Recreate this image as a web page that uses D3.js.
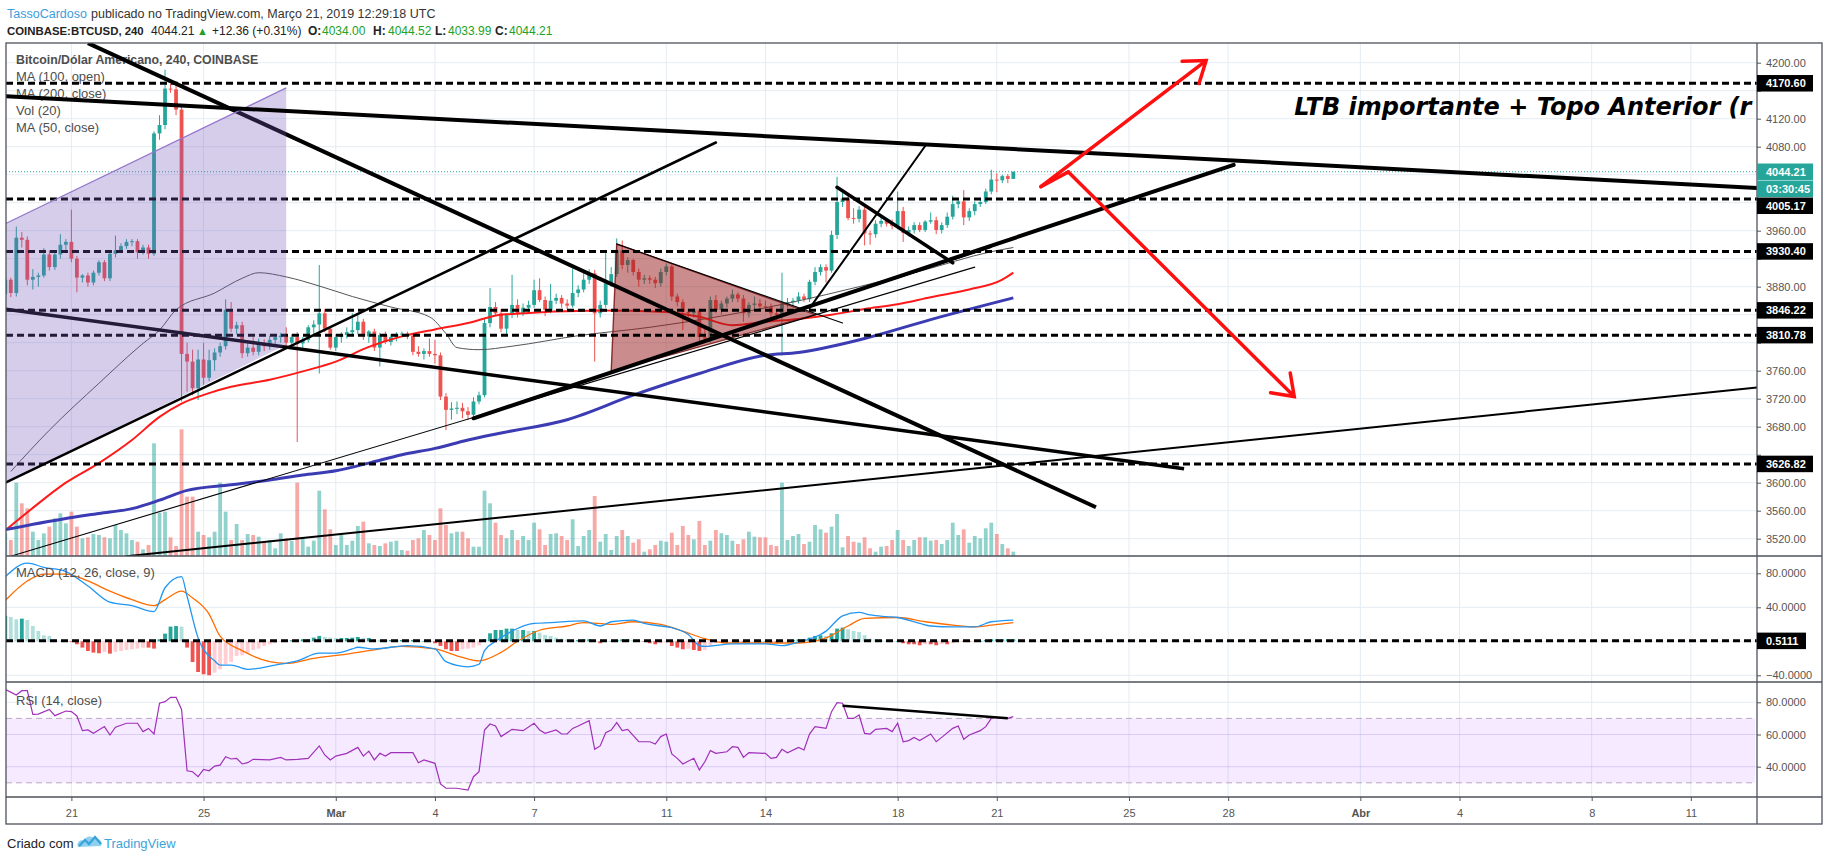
<!DOCTYPE html>
<html>
<head>
<meta charset="utf-8">
<script src="https://cdn.jsdelivr.net/npm/d3@7"></script>
<style>
  body { margin: 0; background: #fff; }
  svg { display: block; font-family: "Liberation Sans", Arial, sans-serif; }
</style>
</head>
<body>
<svg id="chart" width="1828" height="861"></svg>
<script>
// 4h candles from 2019-02-19 00:00 UTC, [open, high, low, close]
const candles = [
  [3870,3895,3862,3890],[3890,3893,3865,3871],[3871,3966,3866,3950],[3950,3958,3936,3947],[3947,3952,3882,3890],
  [3890,3905,3876,3894],[3894,3900,3880,3896],[3896,3935,3893,3926],[3926,3932,3903,3908],[3908,3930,3904,3926],
  [3926,3955,3920,3940],[3940,3948,3930,3944],[3944,3990,3915,3920],[3920,3924,3872,3893],[3893,3898,3886,3896],
  [3896,3900,3880,3886],[3886,3903,3882,3900],[3900,3918,3896,3915],[3915,3918,3888,3892],[3892,3930,3888,3927],
  [3927,3953,3922,3932],[3932,3942,3928,3938],[3938,3948,3934,3944],[3944,3948,3938,3945],[3945,3948,3920,3929],
  [3929,3940,3926,3936],[3936,3940,3920,3927],[3927,4102,3924,4099],[4099,4125,4090,4111],[4111,4190,4105,4163],
  [4163,4170,4157,4162],[4162,4168,4125,4133],[4133,4138,3716,3784],[3784,3800,3730,3773],[3773,3790,3725,3735],
  [3735,3790,3718,3776],[3776,3800,3740,3750],[3750,3790,3745,3775],[3775,3792,3760,3786],[3786,3800,3780,3795],
  [3795,3862,3790,3847],[3847,3858,3815,3820],[3820,3830,3812,3825],[3825,3830,3778,3785],[3785,3800,3780,3793],
  [3793,3808,3782,3787],[3787,3806,3782,3800],[3800,3805,3788,3795],[3795,3810,3790,3804],[3804,3812,3795,3808],
  [3808,3814,3800,3810],[3810,3822,3796,3800],[3800,3812,3795,3808],[3808,3815,3658,3799],[3799,3808,3790,3804],
  [3804,3825,3800,3822],[3822,3832,3808,3826],[3826,3911,3756,3842],[3842,3848,3815,3820],[3820,3822,3790,3793],
  [3793,3812,3788,3808],[3808,3815,3800,3811],[3811,3822,3806,3815],[3815,3842,3810,3818],[3818,3842,3812,3830],
  [3830,3834,3804,3809],[3809,3818,3800,3816],[3816,3820,3788,3793],[3793,3814,3766,3811],[3811,3816,3798,3801],
  [3801,3812,3796,3808],[3808,3815,3802,3812],[3812,3816,3808,3813],[3813,3816,3805,3810],[3810,3814,3782,3787],
  [3787,3795,3780,3784],[3784,3792,3776,3788],[3788,3806,3780,3784],[3784,3804,3770,3782],[3782,3786,3718,3723],
  [3723,3728,3675,3704],[3704,3715,3690,3706],[3706,3716,3698,3707],[3707,3714,3692,3702],[3702,3708,3690,3697],
  [3697,3722,3694,3716],[3716,3730,3712,3725],[3725,3835,3722,3828],[3828,3878,3822,3851],[3851,3858,3838,3842],
  [3842,3848,3815,3820],[3820,3842,3812,3840],[3840,3897,3835,3854],[3854,3862,3836,3842],[3842,3856,3838,3850],
  [3850,3860,3844,3854],[3854,3890,3850,3875],[3875,3892,3858,3861],[3861,3866,3838,3847],[3847,3884,3842,3860],
  [3860,3870,3855,3864],[3864,3868,3850,3856],[3856,3862,3848,3853],[3853,3906,3850,3871],[3871,3882,3865,3876],
  [3876,3900,3872,3890],[3890,3905,3884,3899],[3899,3904,3773,3842],[3842,3860,3836,3854],[3854,3928,3850,3885],
  [3885,3908,3880,3898],[3898,3949,3894,3932],[3932,3946,3905,3911],[3911,3922,3900,3918],[3918,3920,3896,3901],
  [3901,3906,3880,3890],[3890,3897,3884,3892],[3892,3896,3884,3890],[3890,3894,3878,3885],[3885,3906,3880,3901],
  [3901,3913,3896,3909],[3909,3912,3860,3866],[3866,3870,3852,3858],[3858,3862,3818,3844],[3844,3848,3836,3842],
  [3842,3850,3836,3846],[3846,3848,3802,3808],[3808,3820,3800,3806],[3806,3866,3800,3861],[3861,3868,3842,3847],
  [3847,3860,3840,3856],[3856,3866,3850,3863],[3863,3876,3858,3869],[3869,3872,3858,3863],[3863,3868,3830,3842],
  [3842,3858,3836,3854],[3854,3866,3848,3856],[3856,3862,3848,3852],[3852,3860,3846,3851],[3851,3856,3836,3842],
  [3842,3848,3832,3840],[3840,3900,3782,3856],[3856,3864,3850,3858],[3858,3864,3852,3860],[3860,3872,3856,3866],
  [3866,3870,3858,3862],[3862,3890,3858,3887],[3887,3908,3882,3901],[3901,3912,3896,3908],[3908,3912,3886,3903],
  [3903,3960,3900,3954],[3954,4037,3948,4001],[4001,4018,3994,4006],[4006,4010,3975,3978],[3978,3992,3970,3977],
  [3977,3995,3972,3990],[3990,3994,3939,3956],[3956,3960,3940,3955],[3955,3975,3950,3970],[3970,3980,3965,3974],
  [3974,3978,3966,3970],[3970,3976,3962,3967],[3967,4016,3962,3988],[3988,3994,3944,3957],[3957,3966,3952,3961],
  [3961,3972,3956,3968],[3968,3972,3958,3961],[3961,3975,3958,3973],[3973,3986,3970,3975],[3975,3980,3955,3961],
  [3961,3972,3956,3968],[3968,3986,3964,3980],[3980,4010,3976,3998],[3998,4006,3992,4002],[4002,4018,3968,3979],
  [3979,3992,3974,3988],[3988,4002,3982,3998],[3998,4006,3994,4001],[4001,4020,3998,4016],[4016,4047,4012,4033],
  [4033,4042,4015,4032],[4032,4040,4028,4038],[4038,4041,4028,4034],[4034,4044.52,4033.99,4044.21]
];

const volumes = [
  907,640,2933,2107,1907,973,640,907,1173,1507,1707,1307,1773,1173,707,747,880,840,747,707,
  1240,1040,907,640,573,267,440,4507,1733,1773,747,400,5067,2373,2373,973,840,747,973,2933,
  1773,640,1280,640,880,840,773,573,640,307,907,707,600,2933,747,373,613,2613,1867,1067,
  440,840,440,613,1200,1373,507,440,400,507,573,613,240,213,640,707,1040,840,640,1907,
  1240,907,973,973,707,373,373,2613,2107,1333,840,707,1040,640,800,640,1333,1067,440,880,
  907,800,640,1467,400,800,1040,2400,573,880,240,800,1040,800,533,667,173,267,440,613,
  573,933,440,1200,840,667,1400,440,613,1040,907,840,613,480,667,973,773,747,747,440,
  400,2933,640,800,880,480,573,1240,1067,933,1173,1680,347,800,573,533,747,307,173,373,
  400,640,1040,640,400,640,747,747,613,640,480,640,1333,840,1067,533,800,707,1107,1333,
  880,480,307,173
];

const macdHist = [
  30,28.6,25.9,26.7,25.1,18,12.2,7.1,6.3,2.4,0.5,0,-1,-3.5,-7.4,-11.4,-13.3,-14.1,-12.5,-14.5,
  -12.5,-11.4,-10.2,-9.4,-8.6,-7.4,-7.4,-8.6,2.4,9,17.3,18,17.3,-7.4,-24.3,-36.1,-38.8,-40,-36.9,-32.9,
  -27.1,-24.3,-17.2,-16.5,-14.1,-10.2,-8.6,-5.5,-3.5,-2.3,-0.8,0.4,1.2,1.6,2.4,2.4,4.3,6.3,5.1,4.3,
  3.9,3.9,3.9,4.3,5.1,3.9,3.9,2.4,1.6,1.6,1.6,1.6,1.6,1.6,1.6,0.4,0.4,-0.8,-2.3,-5.5,
  -9.4,-11.4,-11.4,-9.4,-8.6,-7.4,-4.7,2.4,9.4,13.3,13.3,14.9,14.9,13.3,13.3,12.2,12.2,10.2,7.5,6.3,
  4.3,3.1,2.4,1.6,1.6,2.4,2.4,0.3,-2.3,-0.8,0.2,1.6,2.4,2.4,1.6,0.2,-0.8,-2.3,-3.5,-2.3,
  -1.6,-5.5,-7.4,-9.4,-8.6,-10.2,-11.4,-10.2,-5.5,-2.3,-0.8,-0.3,-0.2,-0.2,-1.6,-0.8,-0.3,0.2,0.2,-1.6,
  -1.6,-0.8,-0.2,1.6,2.4,2.4,4.3,6.3,7.1,6.3,9.4,14.9,16.1,14.1,12.2,11,7.1,3.1,2.4,1.6,
  0.3,0.2,0.2,-2.3,-3.5,-3.5,-4.7,-3.5,-3.5,-4.7,-3.5,-3.5,-2.3,-0.2,-0.8,-0.8,-0.4,0.2,1.6,2.4,
  2.4,2.4,2.4,2.4
];

// [candle index, value]
const macdLine = [[0,76],[4,92],[7,87],[11,82],[15,65],[19,46],[23,42],[27,35],[29,63],[32,76],[33,53],[35,4],
  [38,-23],[39,-28],[41,-28],[44,-33],[49,-28],[53,-23],[57,-14],[60,-14],[63,-9],[64,-7],[67,-9],[73,-5],
  [78,-9],[80,-24],[84,-30],[86,-27],[87,-11],[89,0],[92,12],[96,21],[99,22],[105,24],[108,18],[110,23],
  [114,25],[116,21],[119,18],[121,16],[124,8],[126,-5],[127,-6],[132,-3],[138,-3],[141,-5],[144,-1],[148,8],
  [149,12],[152,30],[155,34],[157,31],[160,29],[162,28],[166,21],[168,18],[172,17],[176,17],[179,23],[183,25]];
const signalLine = [[0,48],[4,71],[7,79],[11,79],[15,71],[19,59],[23,49],[27,42],[29,49],[32,59],[34,51],[37,32],
  [39,6],[43,-11],[48,-24],[51,-26],[56,-20],[62,-15],[66,-11],[72,-6],[78,-9],[83,-19],[86,-23],[90,-13],
  [93,0],[97,13],[102,18],[105,22],[110,20],[114,23],[119,20],[123,12],[127,3],[131,-2],[138,-2],[144,-2],
  [149,4],[153,18],[156,27],[162,28],[167,23],[172,19],[176,17],[179,19],[183,22]];

const rsiPoints = [[0,88],[2,84.5],[3,87.2],[4,87.2],[5,72.5],[6,72.7],[8,75.6],[9,71.7],[11,74.6],[12,74.2],
  [13,71.5],[14,62.4],[15,62.8],[16,60.7],[18,64.9],[19,59.7],[20,64.5],[22,67],[24,67],[25,61.8],[26,63.8],
  [27,60.3],[28,79.4],[29,80.4],[30,83.1],[31,83.1],[32,75.6],[33,37.5],[34,36.9],[35,33.8],[36,38.3],[37,37.5],
  [38,40.4],[39,41],[40,46.2],[41,44.8],[42,45.2],[43,41.7],[44,42.5],[45,44.6],[48,44.2],[50,45.8],[51,44.2],
  [53,44.6],[55,45.2],[57,52.9],[58,47.3],[59,44.2],[60,46.6],[62,48.3],[64,52],[65,46.6],[66,49.7],[67,44.2],
  [68,48.3],[69,46.6],[70,48.7],[74,48.7],[75,42.5],[76,44.2],[78,42.1],[79,29.3],[80,26.6],[82,26.6],[84,25.5],
  [85,33.8],[86,36.9],[87,62.8],[88,66.5],[89,65.3],[90,58.7],[92,63.2],[94,62.4],[96,67],[97,62.8],[98,60.7],
  [100,62.8],[101,60.3],[102,60.3],[103,63.8],[104,65.3],[106,68.6],[107,50.8],[108,52.9],[109,61.1],[110,62.8],
  [111,67.4],[112,62.4],[113,63.2],[115,55.5],[117,55.5],[118,54.1],[119,58.7],[120,60.3],[121,47.9],[122,45.2],
  [123,41.7],[125,45.2],[126,37.9],[127,43.1],[128,50],[129,48.3],[131,49.3],[132,52.4],[133,52],[134,45.8],
  [135,48.7],[138,48.3],[139,45.2],[140,45.8],[141,50.8],[142,48.7],[144,52],[145,50.4],[146,60.3],[147,64.9],
  [149,63.8],[150,74.2],[151,79.8],[152,79.4],[153,70],[154,70],[155,72.1],[156,60.7],[157,60.3],[158,63.2],
  [160,63.8],[161,61.8],[162,67],[163,55.5],[164,56.2],[165,58.2],[166,56.2],[168,60.3],[169,55.5],[170,58.2],
  [172,63.8],[173,65.3],[174,57],[175,59.7],[177,62.4],[178,64.9],[179,70],[180,70.7],[181,70],[182,70],[183,71.1]];

const ma50 = [[0,3532],[5,3564],[11,3600],[17,3628],[23,3661],[28,3694],[32,3713],[37,3728],[41,3737],[48,3747],
  [54,3759],[60,3773],[66,3794],[72,3809],[78,3819],[84,3828],[90,3840],[108,3846],[120,3844],[126,3837],
  [132,3825],[138,3830],[144,3834],[150,3840],[156,3848],[162,3855],[168,3865],[175,3876],[181,3890],[183,3900]];
const ma100 = [[1,3616],[8,3675],[17,3742],[25,3799],[28,3818],[31,3847],[38,3871],[43,3892],[46,3900],[51,3894],
  [57,3881],[63,3866],[70,3851],[77,3837],[80,3813],[82,3793],[86,3790],[92,3795],[104,3810],[117,3822],
  [130,3838],[143,3858],[155,3880],[166,3902],[179,3930],[183,3936]];
const ma200 = [[0,3533],[11,3549],[17,3556],[23,3563],[28,3575],[33,3589],[41,3597],[48,3604],[54,3611],[60,3617],
  [66,3628],[72,3640],[78,3649],[84,3661],[90,3671],[102,3690],[114,3725],[126,3756],[138,3782],[144,3786],
  [156,3806],[168,3833],[183,3864]];

const levels = [4170.60, 4005.17, 3930.40, 3846.22, 3810.78, 3626.82];
const macdLevel = 0.5111;
const priceTicks = [4200,4160,4120,4080,4040,4000,3960,3920,3880,3840,3800,3760,3720,3680,3640,3600,3560,3520];
const macdTicks = [80, 40, 0, -40];
const rsiTicks = [80, 60, 40];
const dateTicks = [
  ['2019-02-21','21'],['2019-02-25','25'],['2019-03-01','Mar'],['2019-03-04','4'],['2019-03-07','7'],
  ['2019-03-11','11'],['2019-03-14','14'],['2019-03-18','18'],['2019-03-21','21'],['2019-03-25','25'],
  ['2019-03-28','28'],['2019-04-01','Abr'],['2019-04-04','4'],['2019-04-08','8'],['2019-04-11','11']
];

// drawings, points as [candle index, price]
const channel = [[0,3970],[51,4164],[51,3797],[0,3600]];
const triangle = [[111,3941],[110,3759],[147,3840]];
const underLines = [            // drawn beneath the purple channel
  {pts:[[15,4228],[198,3565]], w:4},
  {pts:[[0,3848],[214,3620]], w:3.5}
];
const overLines = [
  {pts:[[0,4152],[318,4021]], w:4},
  {pts:[[0,3600],[129,4086]], w:2.6},
  {pts:[[85,3692],[223,4054]], w:4},
  {pts:[[151,4022],[172,3914]], w:3.5},
  {pts:[[22,3495],[318,3736]], w:2},
  {pts:[[146,3849],[167,4081]], w:2},
  {pts:[[1,3495],[176,3908]], w:1.1},
  {pts:[[110,3759],[179,3936]], w:1.1},
  {pts:[[111,3941],[152,3828]], w:1.1}
];
const arrows = [[[188,4023],[218,4203]], [[193,4044],[234,3723]]];
const arrowLink = [[188,4023],[193,4044]];
const rsiTrend = [[152,77.9],[182,70.1]];
const note = {at:[234,4125], text:'LTB importante + Topo Anterior (r'};

// ---- layout
const L = 6, R = 1757, RR = 1822;
const mainTop = 43, mainBot = 556, macdBot = 682, rsiBot = 797, axisBot = 824;
const t0 = Date.UTC(2019, 1, 19, 0, 0);
const H4 = 4 * 3600e3;
const timeOf = k => new Date(t0 + k * H4);

const x = d3.scaleUtc()
  .domain([new Date(Date.UTC(2019,1,19,0,31)), new Date(Date.UTC(2019,3,13,0,2))])
  .range([L, R]);
const xk = k => x(timeOf(k));
const y = d3.scaleLinear().domain([4200, 3520]).range([62.7, 538.7]);
const yVol = d3.scaleLinear().domain([0, 5200]).range([mainBot, mainBot - 130]);
const yMacd = d3.scaleLinear().domain([80, -40]).range([573.3, 675.3]);
const yRsi = d3.scaleLinear().domain([80, 40]).range([702.3, 766.7]);
const P = d => [xk(d[0]), y(d[1])];

const up = '#26a69a', down = '#ef5350';
const gridColor = '#e4ecf3';
const frame = '#4f525c';

const svg = d3.select('#chart');
const defs = svg.append('defs');
[['clipMain', mainTop, mainBot], ['clipMacd', mainBot, macdBot], ['clipRsi', macdBot, rsiBot]].forEach(([id, a, b]) => {
  defs.append('clipPath').attr('id', id).append('rect').attr('x', L).attr('y', a).attr('width', R - L).attr('height', b - a);
});

// grid
const grid = svg.append('g');
dateTicks.forEach(([d]) => {
  const gx = x(new Date(d + 'T00:00:00Z'));
  grid.append('line').attr('x1', gx).attr('x2', gx).attr('y1', mainTop).attr('y2', rsiBot).attr('stroke', gridColor);
});
priceTicks.forEach(p => grid.append('line').attr('x1', L).attr('x2', R).attr('y1', y(p)).attr('y2', y(p)).attr('stroke', gridColor));
macdTicks.forEach(v => grid.append('line').attr('x1', L).attr('x2', R).attr('y1', yMacd(v)).attr('y2', yMacd(v)).attr('stroke', gridColor));

// ---- main pane
const main = svg.append('g').attr('clip-path', 'url(#clipMain)');

main.append('g').selectAll('rect').data(volumes).join('rect')
  .attr('x', (d, i) => xk(i) - 1.9).attr('width', 3.8)
  .attr('y', d => yVol(d)).attr('height', d => mainBot - yVol(d))
  .attr('fill', (d, i) => candles[i][3] >= candles[i][0] ? 'rgba(38,166,154,0.5)' : 'rgba(239,83,80,0.5)');

const cg = main.append('g');
cg.selectAll('line').data(candles).join('line')
  .attr('x1', (d, i) => xk(i)).attr('x2', (d, i) => xk(i))
  .attr('y1', d => y(d[1])).attr('y2', d => y(d[2]))
  .attr('stroke', d => d[3] >= d[0] ? up : down).attr('stroke-width', 1);
cg.selectAll('rect').data(candles).join('rect')
  .attr('x', (d, i) => xk(i) - 1.9).attr('width', 3.8)
  .attr('y', d => y(Math.max(d[0], d[3])))
  .attr('height', d => Math.max(1, Math.abs(y(d[0]) - y(d[3]))))
  .attr('fill', d => d[3] >= d[0] ? up : down);

const maLine = d3.line().x(d => xk(d[0])).y(d => y(d[1])).curve(d3.curveMonotoneX);
main.append('path').attr('d', maLine(ma100)).attr('fill', 'none').attr('stroke', '#555').attr('stroke-width', 1);
main.append('path').attr('d', maLine(ma50)).attr('fill', 'none').attr('stroke', '#ff1a1a').attr('stroke-width', 2);
main.append('path').attr('d', maLine(ma200)).attr('fill', 'none').attr('stroke', '#3b3bb3').attr('stroke-width', 3);

// last price line
main.append('line').attr('x1', L).attr('x2', R).attr('y1', y(4044.21)).attr('y2', y(4044.21))
  .attr('stroke', up).attr('stroke-dasharray', '1,2');

// legend
const legend = svg.append('g').attr('fill', '#4e4e4e').attr('font-size', 13);
legend.append('text').attr('x', 16).attr('y', 64).attr('font-weight', 'bold').attr('font-size', 12.3).text('Bitcoin/Dólar Americano, 240, COINBASE');
['MA (100, open)', 'MA (200, close)', 'Vol (20)', 'MA (50, close)'].forEach((t, i) =>
  legend.append('text').attr('x', 16).attr('y', 81 + i * 17).text(t));

const draw = svg.append('g').attr('clip-path', 'url(#clipMain)');
draw.append('path').attr('d', 'M' + triangle.map(P).join('L') + 'Z')
  .attr('fill', 'rgba(150,25,25,0.5)').attr('stroke', 'rgba(120,20,20,0.85)').attr('stroke-width', 1.4);

levels.forEach(p => draw.append('line').attr('x1', L).attr('x2', R).attr('y1', y(p)).attr('y2', y(p))
  .attr('stroke', '#000').attr('stroke-width', 3).attr('stroke-dasharray', '7,4'));

underLines.forEach(l => draw.append('line')
  .attr('x1', P(l.pts[0])[0]).attr('y1', P(l.pts[0])[1]).attr('x2', P(l.pts[1])[0]).attr('y2', P(l.pts[1])[1])
  .attr('stroke', '#000').attr('stroke-width', l.w));

draw.append('path').attr('d', 'M' + channel.map(P).join('L') + 'Z').attr('fill', 'rgba(120,90,190,0.3)');
draw.append('line').attr('x1', P(channel[0])[0]).attr('y1', P(channel[0])[1]).attr('x2', P(channel[1])[0]).attr('y2', P(channel[1])[1])
  .attr('stroke', '#9575cd').attr('stroke-width', 1.2);

overLines.forEach(l => draw.append('line')
  .attr('x1', P(l.pts[0])[0]).attr('y1', P(l.pts[0])[1]).attr('x2', P(l.pts[1])[0]).attr('y2', P(l.pts[1])[1])
  .attr('stroke', '#000').attr('stroke-width', l.w).attr('stroke-linecap', 'round'));

function arrowPath(a, b) {
  const [x0, y0] = P(a), [x1, y1] = P(b);
  const ang = Math.atan2(y0 - y1, x0 - x1), len = 24, spread = 0.62;
  const h1 = [x1 + len * Math.cos(ang + spread), y1 + len * Math.sin(ang + spread)];
  const h2 = [x1 + len * Math.cos(ang - spread), y1 + len * Math.sin(ang - spread)];
  return `M${x0},${y0}L${x1},${y1}M${h1}L${x1},${y1}L${h2}`;
}
arrows.forEach(([a, b]) => draw.append('path').attr('d', arrowPath(a, b))
  .attr('fill', 'none').attr('stroke', '#ff1010').attr('stroke-width', 3.5).attr('stroke-linecap', 'round'));
draw.append('path').attr('d', 'M' + arrowLink.map(P).join('L'))
  .attr('stroke', '#ff1010').attr('stroke-width', 3.5).attr('stroke-linecap', 'round');

draw.append('text').attr('x', P(note.at)[0]).attr('y', P(note.at)[1])
  .attr('font-family', '"DejaVu Sans", sans-serif').attr('font-weight', 'bold').attr('font-style', 'italic')
  .attr('font-size', 24).attr('fill', '#000').text(note.text);

// ---- MACD pane
const macd = svg.append('g').attr('clip-path', 'url(#clipMacd)');
macd.selectAll('rect').data(macdHist).join('rect')
  .attr('x', (d, i) => xk(i) - 1.9).attr('width', 3.8)
  .attr('y', d => Math.min(yMacd(d), yMacd(0)))
  .attr('height', d => Math.max(0.6, Math.abs(yMacd(d) - yMacd(0))))
  .attr('fill', (d, i) => {
    const prev = i ? macdHist[i - 1] : d;
    return d >= 0 ? (d >= prev ? '#26a69a' : '#b2dfdb') : (d <= prev ? '#ef5350' : '#ffcdd2');
  });
const mLine = d3.line().x(d => xk(d[0])).y(d => yMacd(d[1])).curve(d3.curveMonotoneX);
macd.append('path').attr('d', mLine(signalLine)).attr('fill', 'none').attr('stroke', '#ff6d00').attr('stroke-width', 1.3);
macd.append('path').attr('d', mLine(macdLine)).attr('fill', 'none').attr('stroke', '#2196f3').attr('stroke-width', 1.3);
macd.append('line').attr('x1', L).attr('x2', R).attr('y1', yMacd(macdLevel)).attr('y2', yMacd(macdLevel))
  .attr('stroke', '#000').attr('stroke-width', 3).attr('stroke-dasharray', '7,4');
svg.append('text').attr('x', 16).attr('y', 577).attr('font-size', 13).attr('fill', '#4e4e4e').text('MACD (12, 26, close, 9)');

// ---- RSI pane
const rsi = svg.append('g').attr('clip-path', 'url(#clipRsi)');
rsi.append('rect').attr('x', L).attr('width', R - L - 2).attr('y', yRsi(70)).attr('height', yRsi(30) - yRsi(70))
  .attr('fill', 'rgba(153,51,255,0.1)');
rsiTicks.forEach(v => rsi.append('line').attr('x1', L).attr('x2', R).attr('y1', yRsi(v)).attr('y2', yRsi(v))
  .attr('stroke', v === 80 ? gridColor : 'rgba(170,150,230,0.35)'));
[70, 30].forEach(v => rsi.append('line').attr('x1', L).attr('x2', R - 2).attr('y1', yRsi(v)).attr('y2', yRsi(v))
  .attr('stroke', '#b8a9c0').attr('stroke-dasharray', '6,4'));
rsi.append('path').attr('d', d3.line().x(d => xk(d[0])).y(d => yRsi(d[1]))(rsiPoints))
  .attr('fill', 'none').attr('stroke', '#a030b8').attr('stroke-width', 1.2);
rsi.append('line').attr('x1', xk(rsiTrend[0][0])).attr('y1', yRsi(rsiTrend[0][1]))
  .attr('x2', xk(rsiTrend[1][0])).attr('y2', yRsi(rsiTrend[1][1])).attr('stroke', '#000').attr('stroke-width', 2.4);
svg.append('text').attr('x', 16).attr('y', 705).attr('font-size', 13).attr('fill', '#4e4e4e').text('RSI (14, close)');

// ---- frame
const fr = svg.append('g').attr('stroke', frame).attr('stroke-width', 1.3).attr('fill', 'none');
fr.append('rect').attr('x', L).attr('y', mainTop).attr('width', RR - L).attr('height', axisBot - mainTop);
[mainBot, macdBot, rsiBot].forEach(v => fr.append('line').attr('x1', L).attr('x2', RR).attr('y1', v).attr('y2', v));
fr.append('line').attr('x1', R).attr('x2', R).attr('y1', mainTop).attr('y2', axisBot);

// ---- price-axis tags (laid out first so covered tick labels can be dropped)
const tags = [
  {v: 4170.60, t: '4170.60', c: '#000'},
  {v: 4044.21, t: '4044.21', c: up},
  {v: null, t: '03:30:45', c: up},
  {v: 4005.17, t: '4005.17', c: '#000'},
  {v: 3930.40, t: '3930.40', c: '#000'},
  {v: 3846.22, t: '3846.22', c: '#000'},
  {v: 3810.78, t: '3810.78', c: '#000'},
  {v: 3626.82, t: '3626.82', c: '#000'}
];
const bh = 16.5;
let lastBottom = -1e9;
tags.forEach(tg => {
  tg.top = tg.v === null ? lastBottom + 0.5 : Math.max(y(tg.v) - bh / 2, lastBottom + 0.5);
  lastBottom = tg.top + bh;
});
const covered = p => tags.some(tg => y(p) > tg.top - 6 && y(p) < tg.top + bh + 6);

// ---- axes
function styleAxis(g) {
  g.select('.domain').remove();
  g.attr('font-family', '"Liberation Sans", Arial, sans-serif').attr('font-size', 11);
  g.selectAll('text').attr('fill', '#555');
  g.selectAll('line').attr('stroke', '#555');
}
svg.append('g').attr('transform', `translate(${R},0)`)
  .call(d3.axisRight(y).tickValues(priceTicks).tickSize(4).tickPadding(5).tickFormat(d3.format('.2f'))).call(styleAxis)
  .call(g => g.selectAll('.tick text').filter(d => covered(d)).remove());
svg.append('g').attr('transform', `translate(${R},0)`)
  .call(d3.axisRight(yMacd).tickValues([80, 40, -40]).tickSize(4).tickPadding(5).tickFormat(d3.format('.4f'))).call(styleAxis);
svg.append('g').attr('transform', `translate(${R},0)`)
  .call(d3.axisRight(yRsi).tickValues(rsiTicks).tickSize(4).tickPadding(5).tickFormat(d3.format('.4f'))).call(styleAxis);

const tAxis = svg.append('g').attr('transform', `translate(0,${rsiBot})`)
  .call(d3.axisBottom(x).tickValues(dateTicks.map(d => new Date(d[0] + 'T00:00:00Z')))
    .tickSize(4).tickPadding(8).tickFormat((d, i) => dateTicks[i][1]))
  .call(styleAxis);
tAxis.selectAll('text').attr('font-weight', (d, i) => /[A-Za-z]/.test(dateTicks[i][1]) ? 'bold' : null);

tags.forEach(tg => {
  svg.append('rect').attr('x', R).attr('y', tg.top).attr('width', 56).attr('height', bh).attr('fill', tg.c);
  svg.append('text').attr('x', R + 9).attr('y', tg.top + 12.2).attr('font-size', 11).attr('font-weight', 'bold')
    .attr('fill', '#fff').text(tg.t);
});
{
  const top = yMacd(macdLevel) - bh / 2;
  svg.append('rect').attr('x', R).attr('y', top).attr('width', 49).attr('height', bh).attr('fill', '#000');
  svg.append('text').attr('x', R + 9).attr('y', top + 12.2).attr('font-size', 11).attr('font-weight', 'bold')
    .attr('fill', '#fff').text(d3.format('.4f')(macdLevel));
}

// ---- header
const h1 = svg.append('text').attr('y', 18).attr('font-size', 12.5).attr('fill', '#333');
h1.append('tspan').attr('x', 7).attr('fill', '#3b9ddd').text('TassoCardoso');
h1.append('tspan').attr('x', 91).text('publicado no TradingView.com, Março 21, 2019 12:29:18 UTC');
const h2 = svg.append('text').attr('y', 35).attr('font-size', 12).attr('fill', '#222');
h2.append('tspan').attr('x', 7).attr('font-weight', 'bold').attr('font-size', 11.4).text('COINBASE:BTCUSD, 240');
h2.append('tspan').attr('x', 151).text('4044.21');
h2.append('tspan').attr('x', 197).attr('fill', '#22a126').attr('font-size', 11).text('▲');
h2.append('tspan').attr('x', 212).text('+12.36 (+0.31%)');
[['O:', 308, '4034.00', 322], ['H:', 373, '4044.52', 388], ['L:', 435, '4033.99', 448], ['C:', 495, '4044.21', 509]]
  .forEach(([k, kx, v, vx]) => {
    h2.append('tspan').attr('x', kx).attr('font-weight', 'bold').text(k);
    h2.append('tspan').attr('x', vx).attr('fill', '#22a126').text(v);
  });

// ---- footer
svg.append('text').attr('x', 7).attr('y', 848).attr('font-size', 13).attr('fill', '#222').text('Criado com');
const logo = svg.append('g').attr('transform', 'translate(77,834)');
logo.append('path').attr('d', 'M1,13 C-1,8 4,5 7,7 C8,2 15,1 17,5 C21,3 26,7 24,12 Z').attr('fill', '#8fd0ee');
logo.append('path').attr('d', 'M2,12 L8,6 L12,10 L18,3 L24,10').attr('fill', 'none').attr('stroke', '#3aa5dc').attr('stroke-width', 2.4);
svg.append('text').attr('x', 104).attr('y', 848).attr('font-size', 13).attr('fill', '#3ca3dc').text('TradingView');
</script>
</body>
</html>
